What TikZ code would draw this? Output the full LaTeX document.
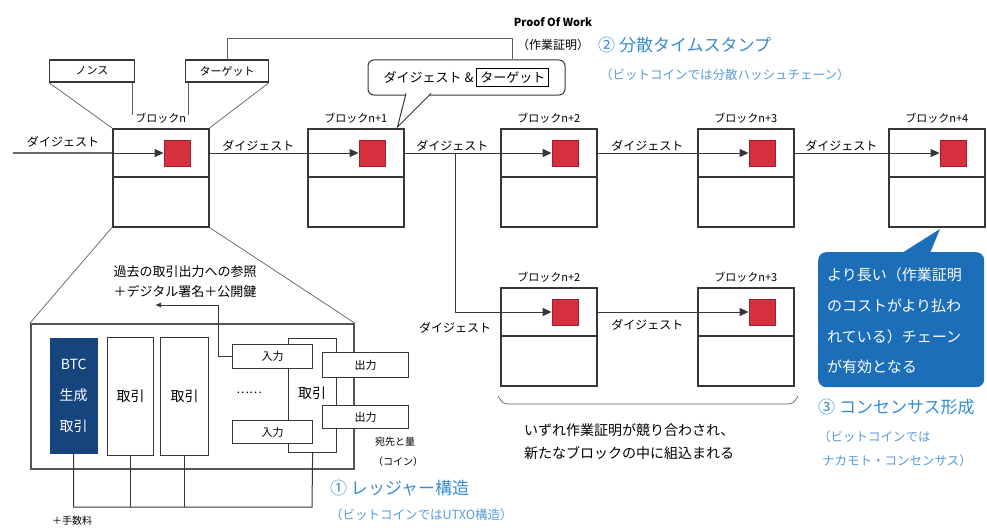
\documentclass[tikz,border=0pt]{standalone}
\usepackage{fontspec}
\setmainfont{Noto Sans CJK JP}
\usetikzlibrary{arrows.meta,calc}
\definecolor{lnc}{RGB}{55,55,55}
\definecolor{redsq}{RGB}{214,48,62}
\definecolor{redbd}{RGB}{160,30,45}
\definecolor{blueT}{RGB}{55,140,210}
\definecolor{blueC}{RGB}{28,110,185}
\definecolor{btcc}{RGB}{22,68,125}
\newcommand\myfs[1]{\fontsize{#1}{#1}\selectfont}
\tikzset{
  ln/.style={draw=lnc, line width=1pt},
  thin/.style={draw=lnc!80, line width=0.7pt},
  blk/.style={draw=lnc, line width=1.5pt, fill=white, minimum width=96pt, minimum height=98pt, inner sep=0pt},
  sq/.style={fill=redsq, draw=redbd, line width=0.8pt, minimum size=26pt, inner sep=0pt},
  lbl/.style={font=\myfs{11}, inner sep=1pt},
  dg/.style={font=\myfs{12}, inner sep=1pt},
  smallbox/.style={draw=lnc, line width=1.2pt, fill=white, inner sep=0pt, font=\myfs{11}},
  txbox/.style={draw=lnc, line width=1.2pt, fill=white, inner sep=0pt, anchor=north west, font=\myfs{14}},
  bluetitle/.style={text=blueT, font=\myfs{17}, inner sep=0pt, anchor=west},
  bluesub/.style={text=blueT!85, font=\myfs{12.5}, inner sep=0pt, anchor=west},
  cotext/.style={text=white, font=\myfs{15}, inner sep=0pt, anchor=west},
  body/.style={font=\myfs{14}, inner sep=0pt, anchor=west},
  tip/.style={-{Triangle[length=9pt,width=8pt]}}
}
\newcommand\blockat[4]{%
  \node[blk, anchor=north west] (#1) at (#2,#3) {};
  \draw[ln, line width=1.5pt] ($(#1.north west)+(0,49)$) -- ($(#1.north east)+(0,49)$);
  \node[sq] (#1s) at ($(#1.north west)+(65,25)$) {};
  \node[lbl, anchor=south] (#1l) at ($(#1.north)+(0,-3)$) {#4};
  \draw[ln, tip] (#1.west |- #1s) -- (#1s.west);
}
\begin{document}
\begin{tikzpicture}[x=1pt,y=-1pt]
\useasboundingbox[fill=white] (0,0) rectangle (987,527);

% ---------- top: nonce / target ----------
\node[smallbox, minimum width=85pt, minimum height=22pt] (nonce) at (92,71) {ノンス};
\node[smallbox, minimum width=83pt, minimum height=22pt] (target) at (227,71) {ターゲット};

% ---------- blocks ----------
\blockat{bA}{112}{128}{ブロックn}
\blockat{bB}{307}{128}{ブロックn+1}
\blockat{bC}{500}{128}{ブロックn+2}
\blockat{bD}{697}{128}{ブロックn+3}
\blockat{bE}{888}{128}{ブロックn+4}
\blockat{lC}{500}{287}{ブロックn+2}
\blockat{lD}{697}{287}{ブロックn+3}

\draw[thin] (nonce.south west) -- (bA.north west);
\draw[thin] (target.south east) -- (bA.north east);
\draw[thin] ($(nonce.south east)+(-3,0)$) -- ++(0,32);
\draw[thin] ($(target.south west)+(3,0)$) -- ++(0,32);

% ---------- chain connectors ----------
\coordinate (start) at (13,153);
\draw[draw=lnc!75, line width=2.5pt] (start) -- (bA.west |- bAs);
\node[dg] (d0) at (63,142) {ダイジェスト};
\draw[ln] (bA.east |- bAs) -- (bB.west |- bBs) node[midway, above, dg] (d1) {ダイジェスト};
\draw[ln] (bB.east |- bBs) -- (bC.west |- bCs) node[midway, above, dg] (d2) {ダイジェスト};
\draw[ln] (bC.east |- bCs) -- (bD.west |- bDs) node[midway, above, dg] (d3) {ダイジェスト};
\draw[ln] (bD.east |- bDs) -- (bE.west |- bEs) node[midway, above, dg] (d4) {ダイジェスト};
\coordinate (br) at (455,153);
\draw[ln] (br) |- (lC.west |- lCs);
\node[dg] (d5) at (455,328) {ダイジェスト};
\draw[ln] (lC.east |- lCs) -- (lD.west |- lDs) node[midway, below=6pt, dg] (d6) {ダイジェスト};

% ---------- PoW callout ----------
\node[draw=lnc, line width=1pt, rounded corners=6pt, fill=white, minimum width=197pt, minimum height=35pt, inner sep=0pt, font=\myfs{13}] (dt) at (466.5,77.5) {ダイジェスト \& {\setlength{\fboxsep}{3pt}\setlength{\fboxrule}{1pt}\fbox{ターゲット}}};
\coordinate (tipB) at ($(bB.north east)+(-7,-1)$);
\draw[ln, fill=white] (406,93.5) -- (tipB) -- (431,93.5);
\coordinate (pw) at (512,38);
\draw[thin] (target.north) |- (pw) -- (pw |- dt.north);
\node[font=\bfseries\myfs{11}, inner sep=0pt] (pow) at (553,22) {Proof Of Work};
\node[font=\myfs{12}, inner sep=0pt] (pow2) at (553,45) {（作業証明）};
\node[bluetitle] (t2) at (598,45) {② 分散タイムスタンプ};
\node[bluesub] (t2s) at (600,75) {（ビットコインでは分散ハッシュチェーン）};

% ---------- consensus callout ----------
\fill[blueC] (902,253) -- (940,229) -- (930,253) -- cycle;
\node[fill=blueC, rounded corners=8pt, minimum width=166pt, minimum height=135pt, anchor=north west, inner sep=0pt] (co) at (818,252) {};
\node[cotext] (c1) at (827,275) {より長い（作業証明};
\node[cotext] (c2) at (827,306) {のコストがより払わ};
\node[cotext] (c3) at (827,337) {れている）チェーン};
\node[cotext] (c4) at (827,367) {が有効となる};
\node[bluetitle] (t3) at (818,407) {③ コンセンサス形成};
\node[bluesub] (t3s) at (818,437) {（ビットコインでは};
\node[bluesub] (t3t) at (822,461) {ナカモト・コンセンサス）};

% ---------- fork note ----------
\coordinate (brL) at (498,396);
\coordinate (brR) at (798,396);
\draw[thin, rounded corners=4pt] (brL) -- ++(5,8) -- ($(brR)+(-5,8)$) -- (brR);
\node[body] (f1) at (524,430) {いずれ作業証明が競り合わされ、};
\node[body] (f2) at (524,453) {新たなブロックの中に組込まれる};

% ---------- ledger ----------
\node[draw=lnc!85, line width=1.6pt, fill=white, minimum width=323pt, minimum height=145pt, anchor=north west, inner sep=0pt] (led) at (30,323) {};
\draw[thin] (bA.south west) -- (led.north west);
\draw[thin] (bA.south east) -- (led.north east);
\node[fill=btcc, draw=btcc, minimum width=47pt, minimum height=115pt, anchor=north west, inner sep=0pt, text=white, align=center, font=\fontsize{14}{31}\selectfont] (btc) at (50,338) {BTC\\生成\\取引};
\node[txbox, minimum width=46pt, minimum height=118pt] (tx1) at (107,337) {取引};
\node[txbox, minimum width=48pt, minimum height=118pt] (tx2) at (160,337) {取引};
\node[font=\myfs{12}, inner sep=0pt] (dots) at (249,393) {……};
\node[txbox, minimum width=48pt, minimum height=114pt] (txR) at (288,338) {};
\node[font=\myfs{14}, inner sep=0pt] (txRt) at (312,393) {取引};
\node[smallbox, minimum width=80pt, minimum height=24pt, anchor=north west] (in1) at (232,344) {入力};
\node[smallbox, minimum width=80pt, minimum height=23pt, anchor=north west] (in2) at (232,420) {入力};
\node[smallbox, minimum width=86pt, minimum height=25pt, anchor=north west] (out1) at (322,352) {出力};
\node[smallbox, minimum width=86pt, minimum height=23pt, anchor=north west] (out2) at (322,405) {出力};
\coordinate (ref) at (155,305);
\draw[ln, -{Latex[length=6pt,width=5pt]}] (in1.west) -- ++(-14,0) |- (ref);
\node[font=\myfs{13}, inner sep=0pt] (refa) at (185,272) {過去の取引出力への参照};
\node[font=\myfs{13}, inner sep=0pt] (refb) at (185,292) {＋デジタル署名＋公開鍵};
\coordinate (bus) at (312,507);
\draw[ln] (btc.south) |- (bus) -- (txR.south);
\draw[ln] (tx1.south) -- (tx1.south |- bus);
\draw[ln] (tx2.south) -- (tx2.south |- bus);
\node[font=\myfs{10}, inner sep=0pt] (fee) at (72,521) {＋手数料};
\node[font=\myfs{10}, inner sep=0pt, anchor=west] (dest1) at (375,442) {宛先と量};
\node[font=\myfs{10}, inner sep=0pt, anchor=west] (dest2) at (373,462) {（コイン）};
\node[bluetitle] (t1) at (330,488) {① レッジャー構造};
\node[bluesub] (t1s) at (330,515) {（ビットコインではUTXO構造）};
\end{tikzpicture}
\end{document}
